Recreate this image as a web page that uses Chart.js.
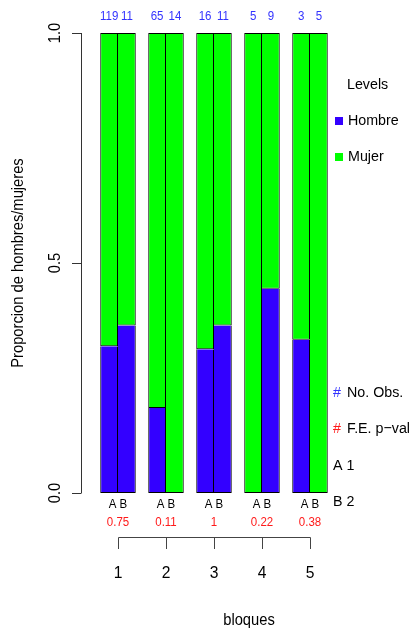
<!DOCTYPE html>
<html>
<head>
<meta charset="utf-8">
<script src="https://cdn.jsdelivr.net/npm/chart.js@4"></script>
<style>
  body { margin: 0; background: #fff; }
  #wrap { width: 417px; height: 632px; }
</style>
</head>
<body>
<div id="wrap"><canvas id="grafico"></canvas></div>
<script>
// datos
const bloques = ['1', '2', '3', '4', '5'];
const hombreA = [0.319, 0.185, 0.3125, 0, 0.333];
const mujerA = [0.681, 0.815, 0.6875, 1, 0.667];
const hombreB = [0.364, 0, 0.364, 0.444, 0];
const mujerB = [0.636, 1, 0.636, 0.556, 1];
const obsA = [119, 65, 16, 5, 3];
const obsB = [11, 14, 11, 9, 5];
const pvals = ['0.75', '0.11', '1', '0.22', '0.38'];
const yTicks = [0, 0.5, 1];
const yTickLabels = ['0.0', '0.5', '1.0'];

const AZUL = '#3300ff';
const VERDE = '#00ff00';
const FONT = '"Liberation Sans", Arial, sans-serif';

// texto un poco estrechado (como el original)
function texto(ctx, t, x, y, size, color, align, rot) {
    ctx.save();
    ctx.translate(x, y);
    if (rot) ctx.rotate(rot);
    ctx.scale(0.92, 1);
    ctx.font = size + 'px ' + FONT;
    ctx.fillStyle = color;
    ctx.textAlign = align || 'center';
    ctx.textBaseline = 'middle';
    ctx.fillText(t, 0, 0);
    ctx.restore();
}

const ejes = {
    id: 'ejes',
    afterDraw(chart) {
        const ctx = chart.ctx;
        const ys = chart.scales.y;
        const xs = chart.scales.x;
        const y0 = ys.getPixelForValue(0);
        const y1 = ys.getPixelForValue(1);

        // eje y
        ctx.save();
        ctx.strokeStyle = '#333';
        ctx.lineWidth = 1;
        ctx.beginPath();
        ctx.moveTo(81.5, y0);
        ctx.lineTo(81.5, y1);
        yTicks.forEach(v => {
            const p = Math.round(ys.getPixelForValue(v)) + 0.5;
            ctx.moveTo(81.5, p);
            ctx.lineTo(72, p);
        });
        ctx.stroke();
        ctx.restore();
        yTicks.forEach((v, i) => {
            texto(ctx, yTickLabels[i], 56, ys.getPixelForValue(v), 16, '#000', 'center', -Math.PI / 2);
        });
        texto(ctx, 'Proporcion de hombres/mujeres', 19, (y0 + y1) / 2, 16, '#000', 'center', -Math.PI / 2);

        // textos por barra
        const barA = chart.getDatasetMeta(0).data;
        const barB = chart.getDatasetMeta(2).data;
        bloques.forEach((b, i) => {
            const cx = xs.getPixelForValue(i);
            texto(ctx, String(obsA[i]), barA[i].x, 17, 12.5, '#3333ff');
            texto(ctx, String(obsB[i]), barB[i].x, 17, 12.5, '#3333ff');
            texto(ctx, 'A B', cx, 505, 12.5, '#000');
            texto(ctx, pvals[i], cx, 523, 12.5, '#ff1a1a');
            texto(ctx, b, cx, 573, 17, '#000');
        });

        // corchete del eje x
        const xi = Math.round(xs.getPixelForValue(0)) + 0.5;
        const xf = Math.round(xs.getPixelForValue(bloques.length - 1)) + 0.5;
        ctx.save();
        ctx.strokeStyle = '#444';
        ctx.lineWidth = 1;
        ctx.beginPath();
        ctx.moveTo(xi, 537.5);
        ctx.lineTo(xf, 537.5);
        bloques.forEach((b, i) => {
            const p = Math.round(xs.getPixelForValue(i)) + 0.5;
            ctx.moveTo(p, 537.5);
            ctx.lineTo(p, 549);
        });
        ctx.stroke();
        ctx.restore();
        texto(ctx, 'bloques', 249, 621, 16, '#000');

        // leyenda
        texto(ctx, 'Levels', 347, 85, 15.5, '#000', 'left');
        ctx.fillStyle = AZUL;
        ctx.fillRect(335, 117, 8, 8);
        texto(ctx, 'Hombre', 348, 121, 15.5, '#000', 'left');
        ctx.fillStyle = VERDE;
        ctx.fillRect(335, 153, 8, 8);
        texto(ctx, 'Mujer', 348, 157, 15.5, '#000', 'left');
        texto(ctx, '#', 333, 393, 15.5, '#3333ff', 'left');
        texto(ctx, 'No. Obs.', 347, 393, 15.5, '#000', 'left');
        texto(ctx, '#', 333, 429, 15.5, '#ff1a1a', 'left');
        texto(ctx, 'F.E. p\u2212val', 347, 429, 15.5, '#000', 'left');
        texto(ctx, 'A 1', 333, 466, 15.5, '#000', 'left');
        texto(ctx, 'B 2', 333, 502, 15.5, '#000', 'left');
    }
};

// bordes de 1px sin duplicar entre barras vecinas
function serie(label, data, color, stack) {
    const esB = stack === 'B';
    const esHombre = label === 'Hombre';
    return {
        label: label,
        data: data,
        stack: stack,
        backgroundColor: color,
        borderColor: '#000',
        borderWidth: (c) => c.raw === 0 ? 0 : {
            top: esHombre ? 0 : 1,
            bottom: 1,
            left: esB ? 0 : 1,
            right: 1
        },
        borderSkipped: false,
        categoryPercentage: 0.74,
        barPercentage: 1
    };
}

new Chart(document.getElementById('grafico'), {
    type: 'bar',
    data: {
        labels: bloques,
        datasets: [
            serie('Hombre', hombreA, AZUL, 'A'),
            serie('Mujer', mujerA, VERDE, 'A'),
            serie('Hombre', hombreB, AZUL, 'B'),
            serie('Mujer', mujerB, VERDE, 'B')
        ]
    },
    options: {
        responsive: true,
        maintainAspectRatio: false,
        animation: false,
        layout: { padding: { left: 94, right: 83, top: 33, bottom: 139 } },
        plugins: {
            legend: { display: false },
            tooltip: { enabled: false }
        },
        scales: {
            x: { display: false, stacked: true },
            y: { display: false, stacked: true, min: 0, max: 1 }
        }
    },
    plugins: [ejes]
});
</script>
</body>
</html>
